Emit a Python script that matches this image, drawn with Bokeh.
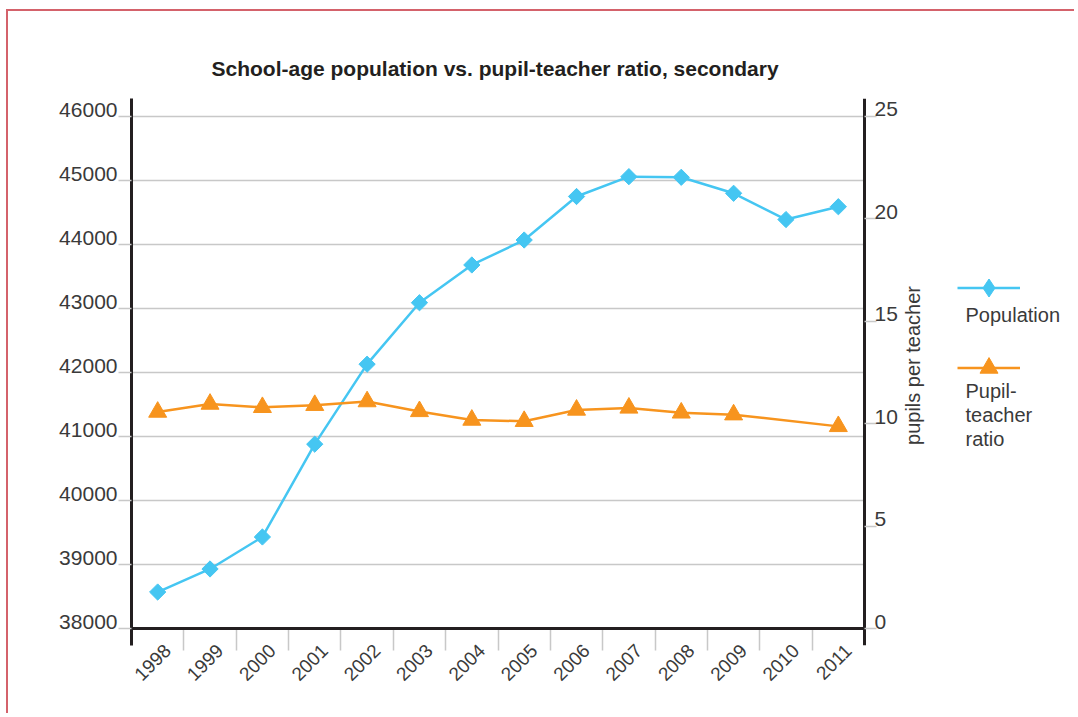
import math
from bokeh.plotting import figure
from bokeh.models import (Range1d, LinearAxis, FixedTicker, Label,
                          ColumnDataSource, Legend, LegendItem)
from bokeh.embed import file_html
from bokeh.resources import INLINE

# ---------------- data ----------------
years = ["1998", "1999", "2000", "2001", "2002", "2003", "2004",
         "2005", "2006", "2007", "2008", "2009", "2010", "2011"]
population = [38570, 38930, 39430, 40880, 42130, 43090, 43680,
              44070, 44750, 45060, 45050, 44800, 44390, 44590]
pupil_teacher_ratio = [10.56, 10.95, 10.79, 10.89, 11.07, 10.59, 10.17,
                       10.11, 10.66, 10.76, 10.52, 10.43, None, 9.86]

left_ticks = [38000, 39000, 40000, 41000, 42000, 43000, 44000, 45000, 46000]
left_tick_labels = ["38000", "39000", "40000", "41000", "42000",
                    "43000", "44000", "45000", "46000"]
right_ticks = [0, 5, 10, 15, 20, 25]
right_tick_labels = ["0", "5", "10", "15", "20", "25"]

title_text = "School-age population vs. pupil-teacher ratio, secondary"
right_axis_title = "pupils per teacher"
legend_labels = ["Population", "Pupil-\nteacher\nratio"]

# ---------------- style ----------------
FONT = "Liberation Sans"
BLUE = "#45c6f2"
ORANGE = "#f7941e"
GRID = "#c8c8c8"
AXIS = "#231f20"
TEXT = "#3a3a3a"
TICK_FS = "21px"

# layout in page pixels
W, H = 1068, 704
OX, OY = 8, 11                      # canvas origin on page (margin + 2px border)
FL, PR, FT, FB = 131, 864, 98, 645  # plot-area edges on page
Y_LO_PX, Y_HI_PX = 628, 116         # pixel rows of 38000 / 46000
R_LO_PX, R_HI_PX = 628, 115.5       # pixel rows of 0 / 25
LABEL_RAISE_PX = 7                  # y tick labels sit on top of their tick lines
XLABEL_SHIFT = 0.19                 # x tick labels sit a bit right of the centre

n = len(years)
xs = list(range(n))
cat_px = (PR - FL) / n
frame_right = OX + W                # frame runs to the canvas edge (legend lives inside)

lp = (left_ticks[-1] - left_ticks[0]) / (Y_LO_PX - Y_HI_PX)
left_range = Range1d(left_ticks[0] - (FB - Y_LO_PX) * lp,
                     left_ticks[-1] + (Y_HI_PX - FT) * lp)
rp = (right_ticks[-1] - right_ticks[0]) / (R_LO_PX - R_HI_PX)
right_range = Range1d(right_ticks[0] - (FB - R_LO_PX) * rp,
                      right_ticks[-1] + (R_HI_PX - FT) * rp)
x_range = Range1d(-0.5, -0.5 + (frame_right - FL) / cat_px)
x_end = n - 0.5                     # right edge of the plotted categories


def py_left(py):
    """page pixel row -> left-axis data value (for annotation placement)"""
    return left_ticks[0] + (Y_LO_PX - py) * lp


p = figure(width=W, height=H, x_range=x_range, y_range=left_range,
           output_backend="svg", toolbar_location=None,
           min_border_left=FL - OX, min_border_top=FT - OY,
           min_border_right=0, min_border_bottom=H - (FB - OY),
           title=title_text,
           styles={"margin-left": "6px", "margin-top": "9px",
                   "border-left": "2px solid #d4626b",
                   "border-top": "2px solid #d4626b"})
p.outline_line_color = None
p.background_fill_color = "white"
p.border_fill_color = "white"
p.extra_y_ranges = {"ratio": right_range}

# title
p.title.text_font = FONT
p.title.text_font_size = "21px"
p.title.text_font_style = "bold"
p.title.text_color = "#231f20"
p.title.align = "left"
p.title.offset = 211 - FL
p.title.standoff = 38

# ---- left axis: labels on (invisible) raised major ticks, tick marks = minor ticks
ya = p.yaxis[0]
l_label_pos = [t + LABEL_RAISE_PX * lp for t in left_ticks]
ya.ticker = FixedTicker(ticks=l_label_pos, minor_ticks=left_ticks)
ya.major_label_overrides = {t: s for t, s in zip(l_label_pos, left_tick_labels)}
ya.axis_line_color = AXIS
ya.axis_line_width = 3
ya.major_tick_in = 0
ya.major_tick_out = 0
ya.major_tick_line_color = None
ya.minor_tick_in = 0
ya.minor_tick_out = 13
ya.minor_tick_line_color = GRID
ya.minor_tick_line_width = 1.5
ya.major_label_standoff = 1
ya.major_label_text_font = FONT
ya.major_label_text_font_size = TICK_FS
ya.major_label_text_color = TEXT

# ---- horizontal grid lines, only across the category area
p.xgrid.visible = False
yg = p.ygrid[0]
yg.ticker = FixedTicker(ticks=left_ticks)
yg.grid_line_color = GRID
yg.grid_line_width = 1.5
if hasattr(yg, "cross_bounds"):
    yg.cross_bounds = (-0.5, x_end)
else:
    yg.visible = False
    gaxis = LinearAxis(fixed_location=-0.5, ticker=FixedTicker(ticks=[], minor_ticks=left_ticks),
                       axis_line_color=None, major_tick_line_color=None,
                       major_label_text_color=None, minor_tick_in=int(PR - FL),
                       minor_tick_out=0, minor_tick_line_color=GRID,
                       minor_tick_line_width=1.5, level="underlay")
    p.add_layout(gaxis, "left")

# ---- x axis: year labels + category separators
xa = p.xaxis[0]
x_label_pos = [x + XLABEL_SHIFT for x in xs]
xa.ticker = FixedTicker(ticks=x_label_pos, minor_ticks=[i + 0.5 for i in range(n - 1)])
xa.major_label_overrides = {t: y for t, y in zip(x_label_pos, years)}
xa.major_label_orientation = math.pi / 4
xa.major_tick_in = 0
xa.major_tick_out = 0
xa.major_tick_line_color = None
xa.minor_tick_in = 17
xa.minor_tick_out = 5
xa.minor_tick_line_color = GRID
xa.minor_tick_line_width = 1.5
xa.axis_line_color = None
xa.major_label_standoff = -3
xa.major_label_text_font = FONT
xa.major_label_text_font_size = "19px"
xa.major_label_text_color = TEXT

# ---- baseline: an axis line pinned to 38000 (runs a little past the left axis)
base = LinearAxis(fixed_location=left_ticks[0], bounds=(-0.5 - 13 / cat_px, x_end),
                  ticker=FixedTicker(ticks=[]), axis_line_color=AXIS, axis_line_width=3,
                  major_tick_line_color=None, minor_tick_line_color=None,
                  major_label_text_color=None)
p.add_layout(base, "below")

# ---- right axis (pupils per teacher) at the right edge of the categories
r_label_pos = [t + LABEL_RAISE_PX * rp for t in right_ticks]
ra = LinearAxis(y_range_name="ratio", fixed_location=x_end,
                ticker=FixedTicker(ticks=r_label_pos, minor_ticks=right_ticks),
                major_label_overrides={t: s for t, s in zip(r_label_pos, right_tick_labels)},
                axis_line_color=AXIS, axis_line_width=3,
                major_tick_in=0, major_tick_out=0, major_tick_line_color=None,
                minor_tick_in=0, minor_tick_out=12,
                minor_tick_line_color=GRID, minor_tick_line_width=1.5,
                major_label_standoff=-2, major_label_text_font=FONT,
                major_label_text_font_size=TICK_FS, major_label_text_color=TEXT)
p.add_layout(ra, "right")

# ---- series
pop_src = ColumnDataSource(dict(x=xs, y=population))
rx = [x for x, v in zip(xs, pupil_teacher_ratio) if v is not None]
ry = [v for v in pupil_teacher_ratio if v is not None]
rat_src = ColumnDataSource(dict(x=rx, y=ry))

pop_line = p.line("x", "y", source=pop_src, line_color=BLUE, line_width=2.5)
pop_pts = p.scatter("x", "y", source=pop_src, marker="square", angle=math.pi / 4,
                    size=11.5, fill_color=BLUE, line_color=BLUE)
rat_line = p.line("x", "y", source=rat_src, y_range_name="ratio",
                  line_color=ORANGE, line_width=2.5)
rat_pts = p.scatter("x", "y", source=rat_src, y_range_name="ratio", marker="triangle",
                    size=18, fill_color=ORANGE, line_color=ORANGE)

# legend-only symbol for the population series (legend glyphs are never rotated)
pop_key = p.scatter("x", "y", source=pop_src, marker="diamond",
                    fill_color=BLUE, line_color=BLUE, visible=False)

# ---- right axis title
p.add_layout(Label(x=x_end, x_offset=48, y=py_left(365), text=right_axis_title,
                   angle=math.pi / 2, text_align="center", text_baseline="middle",
                   text_font=FONT, text_font_size="20px", text_color=TEXT))

# ---- legend: symbols
leg1 = Legend(items=[LegendItem(label=" ", renderers=[pop_line, pop_key])],
              location=(957 - FL, FB - 309.5), glyph_width=63, glyph_height=45,
              padding=0, margin=0, spacing=0, label_standoff=0, label_width=0,
              label_height=0, label_text_font_size="1px",
              border_line_color=None, background_fill_alpha=0)
leg2 = Legend(items=[LegendItem(label=" ", renderers=[rat_line, rat_pts])],
              location=(957 - FL, FB - 390), glyph_width=63, glyph_height=45,
              padding=0, margin=0, spacing=0, label_standoff=0, label_width=0,
              label_height=0, label_text_font_size="1px",
              border_line_color=None, background_fill_alpha=0)
p.add_layout(leg1)
p.add_layout(leg2)

# ---- legend: texts (below the symbols)
p.add_layout(Label(x=x_end, x_offset=965 - PR, y=py_left(314), text=legend_labels[0],
                   text_align="left", text_baseline="alphabetic",
                   text_font=FONT, text_font_size="20px", text_color=TEXT))
p.add_layout(Label(x=x_end, x_offset=965 - PR, y=py_left(379), text=legend_labels[1],
                   text_align="left", text_baseline="top", text_line_height=1.1,
                   text_font=FONT, text_font_size="20px", text_color=TEXT))

open("out.html", "w").write(file_html(p, INLINE))
